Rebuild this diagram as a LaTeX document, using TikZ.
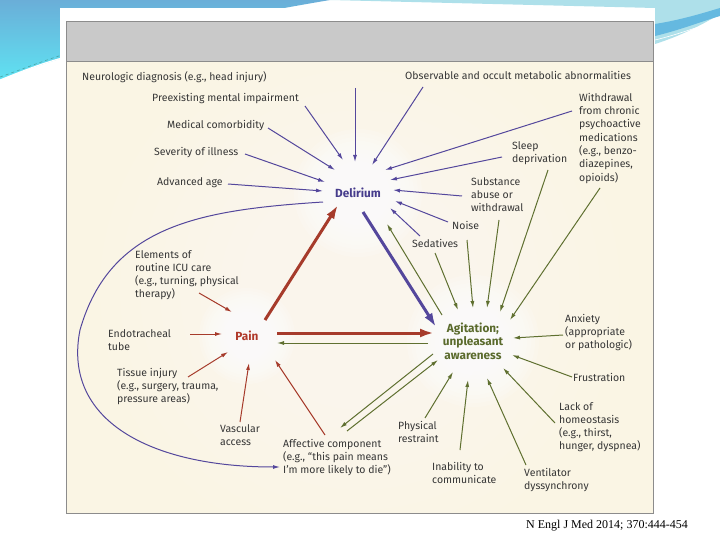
\documentclass[tikz,border=0pt]{standalone}
\usepackage{fontspec}
\setmainfont{Fira Sans}
\newfontfamily\capfont{Liberation Serif}
\usetikzlibrary{arrows.meta}
\definecolor{cream}{HTML}{FAF5E4}
\definecolor{hdr}{HTML}{C9C9C9}
\definecolor{frame}{HTML}{8C8C8C}
\definecolor{purp}{HTML}{54479C}
\definecolor{purpT}{HTML}{463C8C}
\definecolor{redc}{HTML}{A63B2B}
\definecolor{redT}{HTML}{B0392A}
\definecolor{grn}{HTML}{5F7030}
\definecolor{grnT}{HTML}{5A6A2C}
\definecolor{txt}{HTML}{363636}
\definecolor{skyA}{HTML}{6AAED8}
\definecolor{skyB}{HTML}{5FE2F2}
\definecolor{skyC}{HTML}{AEE0EA}
\definecolor{skyD}{HTML}{3FA8D8}
\tikzset{
  lbl/.style={font=\fontsize{10.5}{13.3}\selectfont, text=txt, align=left, inner sep=0pt, anchor=north west},
  hub/.style={font=\fontsize{11.8}{13.6}\selectfont\bfseries, align=center, inner sep=0pt},
  parr/.style={draw=purp, line width=1pt, -{Latex[length=7pt,width=4pt]}},
  garr/.style={draw=grn, line width=1pt, -{Latex[length=7pt,width=4pt]}},
  rarr/.style={draw=redc, line width=1pt, -{Latex[length=7pt,width=4pt]}},
  thick arr/.style={line width=3pt, -{Latex[length=14pt,width=9pt]}}
}
\begin{document}
\begin{tikzpicture}[x=1pt,y=-1pt]
\useasboundingbox (0,0) rectangle (720,540);
\fill[white] (0,0) rectangle (720,540);
% slide decorations
\shade[top color=skyA, bottom color=skyB] (0,0) -- (330,0) .. controls (200,22) and (70,50) .. (0,80) -- cycle;
\draw[white, line width=1.2pt] (0,80) .. controls (20,72) and (40,64) .. (62,58);
\draw[teal!70, line width=0.6pt, dashed] (0,77) .. controls (20,70) and (40,62) .. (62,55);
\fill[skyC] (330,0) -- (720,0) -- (720,14) .. controls (700,26) and (680,36) .. (655,44) -- (655,8) -- cycle;
\fill[skyD!80] (655,24) .. controls (680,20) and (700,14) .. (720,8) -- (720,16) .. controls (700,22) and (680,30) .. (655,36) -- cycle;
\draw[white, line width=0.6pt] (655,40) .. controls (680,34) and (700,26) .. (720,20);
% panel
\fill[white] (60,8) rectangle (655,515);
\fill[cream] (66,62) rectangle (653,513);
\fill[hdr] (66,22) rectangle (653,62);
% glows
\begin{scope}
\clip (66,62) rectangle (653,513);
\foreach \r in {60,80,...,260} \fill[white, opacity=0.05] (360,290) circle (\r pt);
\foreach \r in {16,20,...,64} \fill[white, opacity=0.16] (358,193) circle (\r pt);
\foreach \r in {12,15,...,48} \fill[white, opacity=0.16] (247,336) circle (\r pt);
\foreach \r in {18,22,...,66} \fill[white, opacity=0.16] (473,341) circle (\r pt);
\end{scope}
\draw[frame, line width=1pt] (66,22) rectangle (653,513);
\draw[frame, line width=1pt] (66,62) -- (653,62);

% hubs
\node[hub, text=purpT] (del) at (358,193) {Delirium};
\node[hub, text=redT] (pain) at (247,336) {Pain};
\node[hub, text=grnT] (agi) at (473,341) {Agitation;\\unpleasant\\awareness};

% labels
\node[lbl] (nd) at (82,71) {Neurologic diagnosis (e.g., head injury)};
\node[lbl] (om) at (405,71) {Observable and occult metabolic abnormalities};
\node[lbl] (pm) at (152,93) {Preexisting mental impairment};
\node[lbl] (mc) at (167,120) {Medical comorbidity};
\node[lbl] (si) at (154,147) {Severity of illness};
\node[lbl] (aa) at (157,177) {Advanced age};
\node[lbl] (wd) at (579,93) {Withdrawal\\from chronic\\psychoactive\\medications\\(e.g., benzo-\\diazepines,\\opioids)};
\node[lbl] (sd) at (512,141) {Sleep\\deprivation};
\node[lbl] (sa) at (471,177) {Substance\\abuse or\\withdrawal};
\node[lbl] (no) at (452,221) {Noise};
\node[lbl] (se) at (412,239) {Sedatives};
\node[lbl] (el) at (135,250) {Elements of\\routine ICU care\\(e.g., turning, physical\\therapy)};
\node[lbl] (et) at (108,329) {Endotracheal\\tube};
\node[lbl] (ti) at (117,368) {Tissue injury\\(e.g., surgery, trauma,\\pressure areas)};
\node[lbl] (va) at (220,424) {Vascular\\access};
\node[lbl] (ac) at (283,439) {Affective component\\(e.g., “this pain means\\I’m more likely to die”)};
\node[lbl] (ph) at (398,421) {Physical\\restraint};
\node[lbl] (ic) at (432,462) {Inability to\\communicate};
\node[lbl] (vd) at (524,468) {Ventilator\\dyssynchrony};
\node[lbl] (lh) at (559,402) {Lack of\\homeostasis\\(e.g., thirst,\\hunger, dyspnea)};
\node[lbl] (fr) at (573,373) {Frustration};
\node[lbl] (an) at (565,314) {Anxiety\\(appropriate\\or pathologic)};
\node[font=\capfont\fontsize{12}{14}\selectfont, text=black, inner sep=0pt, anchor=west] (cap) at (526,526) {N Engl J Med 2014; 370:444-454};

% connector end points
\coordinate (p1s) at (355,88);  \coordinate (p1e) at (355,162);
\coordinate (p2s) at (423,87);  \coordinate (p2e) at (372,165);
\coordinate (p3s) at (305,106); \coordinate (p3e) at (343,160);
\coordinate (p4s) at (268,128); \coordinate (p4e) at (335,170);
\coordinate (p5s) at (245,154); \coordinate (p5e) at (325,182);
\coordinate (p6s) at (228,184); \coordinate (p6e) at (323,191);
\coordinate (p7s) at (572,111); \coordinate (p7e) at (385,170);
\coordinate (p8s) at (502,157); \coordinate (p8e) at (390,180);
\coordinate (p9s) at (462,196); \coordinate (p9e) at (393,190);
\coordinate (p10s) at (448,222); \coordinate (p10e) at (395,201);
\coordinate (p11s) at (420,236); \coordinate (p11e) at (390,208);

\coordinate (g1s) at (435,253); \coordinate (g1e) at (458,310);
\coordinate (g2s) at (467,240); \coordinate (g2e) at (473,308);
\coordinate (g3s) at (499,220); \coordinate (g3e) at (487,308);
\coordinate (g4s) at (548,170); \coordinate (g4e) at (500,312);
\coordinate (g5s) at (600,188); \coordinate (g5e) at (510,320);
\coordinate (g6s) at (563,335); \coordinate (g6e) at (513,338);
\coordinate (g7s) at (572,377); \coordinate (g7e) at (512,355);
\coordinate (g8s) at (555,423); \coordinate (g8e) at (503,368);
\coordinate (g9s) at (526,465); \coordinate (g9e) at (487,378);
\coordinate (g10s) at (460,450); \coordinate (g10e) at (468,380);
\coordinate (g11s) at (425,418); \coordinate (g11e) at (453,372);
\coordinate (g12s) at (433,354); \coordinate (g12e) at (340,428);
\coordinate (g13s) at (347,431); \coordinate (g13e) at (438,360);
\coordinate (g14s) at (428,343); \coordinate (g14e) at (277,343);
\coordinate (g15s) at (442,315); \coordinate (g15e) at (387,224);

\coordinate (r1s) at (199,293); \coordinate (r1e) at (232,312);
\coordinate (r2s) at (190,334); \coordinate (r2e) at (222,334);
\coordinate (r3s) at (188,377); \coordinate (r3e) at (228,352);
\coordinate (r4s) at (240,422); \coordinate (r4e) at (249,363);
\coordinate (r5s) at (325,435); \coordinate (r5e) at (275,360);

\coordinate (pdS) at (265,320); \coordinate (pdE) at (338,205);
\coordinate (paS) at (277,333); \coordinate (paE) at (434,333);
\coordinate (daS) at (363,212); \coordinate (daE) at (436,327);
\coordinate (cvS) at (323,202); \coordinate (cvM) at (80,330); \coordinate (cvE) at (280,467);

% purple arrows into Delirium
\foreach \i in {1,...,11} \draw[parr] (p\i s) -- (p\i e);
% green arrows
\foreach \i in {1,...,15} \draw[garr] (g\i s) -- (g\i e);
% red arrows into Pain
\foreach \i in {1,...,5} \draw[rarr] (r\i s) -- (r\i e);
% thick arrows
\draw[thick arr, draw=redc, fill=redc] (pdS) -- (pdE);
\draw[thick arr, draw=redc, fill=redc] (paS) -- (paE);
\draw[thick arr, draw=purp, fill=purp] (daS) -- (daE);
% long curve
\draw[parr] (cvS) .. controls (200,210) and (110,225) .. (cvM) .. controls (62,420) and (150,467) .. (cvE);
\end{tikzpicture}
\end{document}
